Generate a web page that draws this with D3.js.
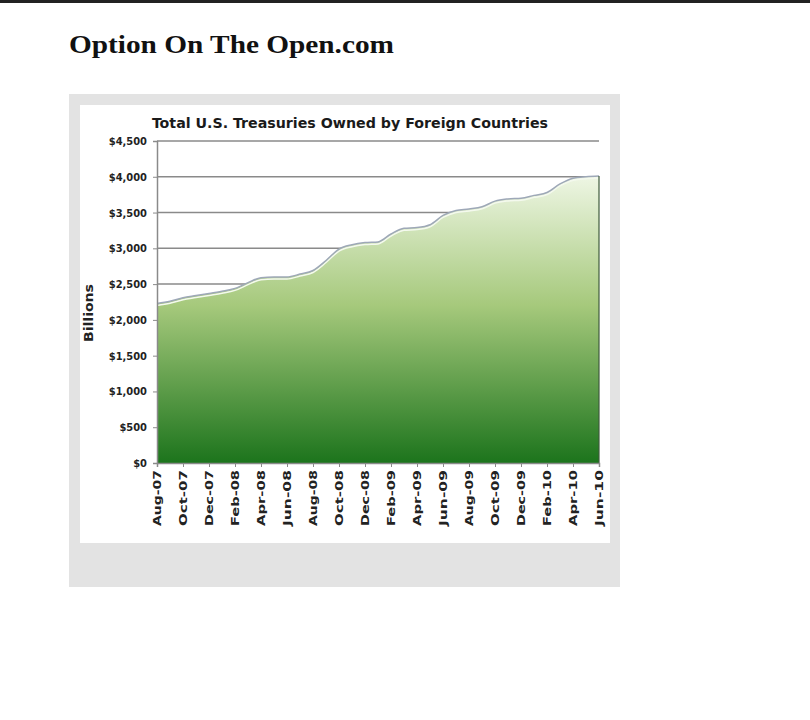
<!DOCTYPE html>
<html>
<head>
<meta charset="utf-8">
<script src="https://cdn.jsdelivr.net/npm/d3@7"></script>
<style>
  body { margin: 0; background: #fff; }
  svg { display: block; }
</style>
</head>
<body>
<div id="chart"></div>
<script>
// monthly holdings, billions of dollars
const months = [
  "Aug-07","Sep-07","Oct-07","Nov-07","Dec-07","Jan-08","Feb-08","Mar-08","Apr-08",
  "May-08","Jun-08","Jul-08","Aug-08","Sep-08","Oct-08","Nov-08","Dec-08","Jan-09",
  "Feb-09","Mar-09","Apr-09","May-09","Jun-09","Jul-09","Aug-09","Sep-09","Oct-09",
  "Nov-09","Dec-09","Jan-10","Feb-10","Mar-10","Apr-10","May-10","Jun-10"
];
const holdings = [
  2230, 2260, 2310, 2340, 2370, 2400, 2440, 2520, 2590,
  2600, 2600, 2640, 2690, 2830, 2990, 3050, 3080, 3090,
  3200, 3280, 3290, 3330, 3460, 3530, 3550, 3580, 3660,
  3690, 3700, 3740, 3780, 3900, 3980, 4000, 4010
];
const yTicks = [0, 500, 1000, 1500, 2000, 2500, 3000, 3500, 4000, 4500];

const data = months.map((m, i) => ({month: m, value: holdings[i]}));

const width = 810, height = 720;
const plot = {left: 157, right: 599, top: 141, bottom: 463};
const labelFont = "'DejaVu Sans Condensed', 'Liberation Sans', sans-serif";

const svg = d3.select("#chart").append("svg")
    .attr("width", width)
    .attr("height", height);

// top dark strip of the page
svg.append("rect").attr("x", 0).attr("y", 0).attr("width", width).attr("height", 3).attr("fill", "#222");

svg.append("text")
    .attr("x", 69).attr("y", 53)
    .attr("textLength", 325)
    .attr("lengthAdjust", "spacingAndGlyphs")
    .style("font-family", "'Liberation Serif', 'Times New Roman', serif")
    .style("font-weight", "bold")
    .style("font-size", "26px")
    .attr("fill", "#111")
    .text("Option On The Open.com");

// gray frame + white chart area
svg.append("rect").attr("x", 69).attr("y", 94).attr("width", 551).attr("height", 493).attr("fill", "#e3e3e3");
svg.append("rect").attr("x", 80).attr("y", 105).attr("width", 530).attr("height", 438).attr("fill", "#fff");

const x = d3.scalePoint()
    .domain(months)
    .range([plot.left, plot.right]);

const y = d3.scaleLinear()
    .domain([0, 4500])
    .range([plot.bottom, plot.top]);

const defs = svg.append("defs");
const grad = defs.append("linearGradient")
    .attr("id", "fillGrad")
    .attr("x1", 0).attr("y1", 0).attr("x2", 0).attr("y2", 1);
grad.append("stop").attr("offset", "0%").attr("stop-color", "#eef6e4");
grad.append("stop").attr("offset", "45%").attr("stop-color", "#a6c97c");
grad.append("stop").attr("offset", "100%").attr("stop-color", "#1c741c");

// gridlines
svg.append("g").selectAll("line")
    .data(yTicks.filter(d => d > 0))
    .enter().append("line")
    .attr("x1", plot.left).attr("x2", plot.right)
    .attr("y1", d => y(d)).attr("y2", d => y(d))
    .attr("stroke", "#8a8a8a")
    .attr("stroke-width", 1.5);

const area = d3.area()
    .x(d => x(d.month))
    .y0(y(0))
    .y1(d => y(d.value))
    .curve(d3.curveMonotoneX);

svg.append("path")
    .datum(data)
    .attr("d", area)
    .attr("fill", "url(#fillGrad)");

// white highlight just under the top edge
svg.append("path")
    .datum(data)
    .attr("d", d3.line().x(d => x(d.month)).y(d => y(d.value) + 2).curve(d3.curveMonotoneX))
    .attr("fill", "none")
    .attr("stroke", "#f4f9ee")
    .attr("stroke-width", 1.5);

svg.append("path")
    .datum(data)
    .attr("d", d3.line().x(d => x(d.month)).y(d => y(d.value)).curve(d3.curveMonotoneX))
    .attr("fill", "none")
    .attr("stroke", "#9ea8b8")
    .attr("stroke-width", 1.5);

// right edge of the area
const last = data[data.length - 1];
svg.append("line")
    .attr("x1", x(last.month)).attr("x2", x(last.month))
    .attr("y1", y(last.value)).attr("y2", y(0))
    .attr("stroke", "#3f5a3c")
    .attr("stroke-width", 1.2);

// y axis
const yAxis = svg.append("g")
    .attr("transform", `translate(${plot.left},0)`)
    .call(d3.axisLeft(y).tickValues(yTicks).tickSize(4).tickPadding(6)
        .tickFormat(d => "$" + d3.format(",")(d)));
yAxis.select(".domain").attr("stroke", "#8a8a8a").attr("stroke-width", 1.5);
yAxis.selectAll(".tick line").attr("stroke", "#8a8a8a");
yAxis.selectAll("text")
    .style("font-family", labelFont)
    .style("font-weight", "bold")
    .style("font-size", "11px")
    .attr("fill", "#222");

// x axis, every other month labelled
const xAxis = svg.append("g")
    .attr("transform", `translate(0,${plot.bottom})`)
    .call(d3.axisBottom(x).tickValues(months.filter((m, i) => i % 2 === 0)).tickSize(4).tickPadding(4));
xAxis.select(".domain").attr("stroke", "#8a8a8a").attr("stroke-width", 1.5);
xAxis.selectAll(".tick line").attr("stroke", "#8a8a8a");
xAxis.selectAll("text")
    .attr("transform", "rotate(-90)")
    .attr("text-anchor", "end")
    .attr("x", -7).attr("y", 0).attr("dy", "0.35em")
    .attr("textLength", 56)
    .attr("lengthAdjust", "spacingAndGlyphs")
    .style("font-family", labelFont)
    .style("font-weight", "bold")
    .style("font-size", "10px")
    .attr("fill", "#222");

svg.append("text")
    .attr("transform", `translate(93,${(plot.top + plot.bottom) / 2 + 11}) rotate(-90)`)
    .attr("text-anchor", "middle")
    .attr("textLength", 58)
    .attr("lengthAdjust", "spacingAndGlyphs")
    .style("font-family", labelFont)
    .style("font-weight", "bold")
    .style("font-size", "12px")
    .attr("fill", "#222")
    .text("Billions");

svg.append("text")
    .attr("x", 152).attr("y", 128)
    .attr("textLength", 396)
    .attr("lengthAdjust", "spacingAndGlyphs")
    .style("font-family", labelFont)
    .style("font-weight", "bold")
    .style("font-size", "14px")
    .attr("fill", "#1a1a1a")
    .text("Total U.S. Treasuries Owned by Foreign Countries");
</script>
</body>
</html>
